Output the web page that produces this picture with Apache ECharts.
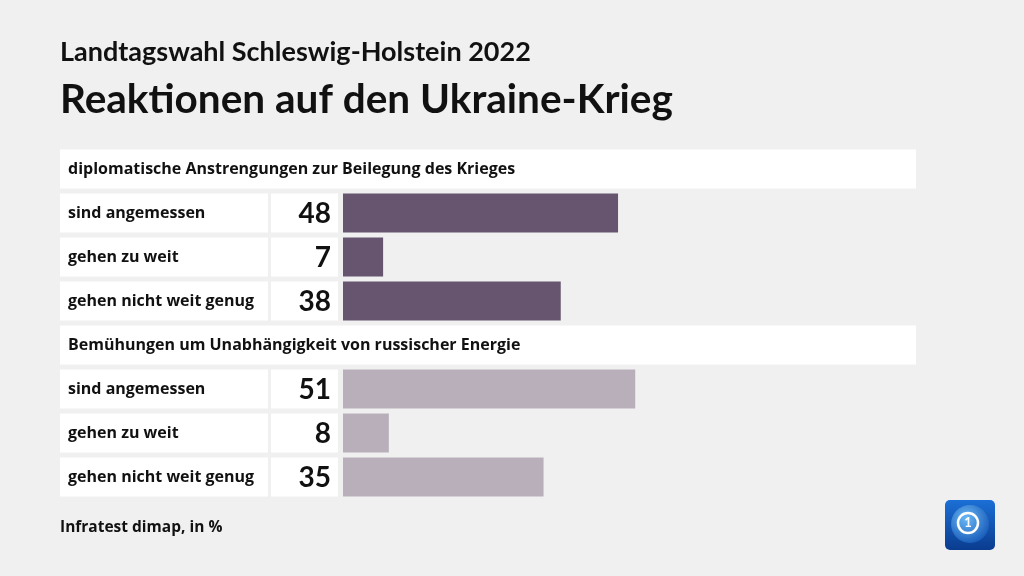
<!DOCTYPE html>
<html>
<head>
<meta charset="utf-8">
<script src="https://cdn.jsdelivr.net/npm/echarts@6/dist/echarts.min.js"></script>
<style>
html,body{margin:0;padding:0;background:#f0f0f0;}
#c{width:1024px;height:576px;}
</style>
</head>
<body>
<div id="c"></div>
<script>
// ---- data ----
const subtitle = 'Landtagswahl Schleswig-Holstein 2022';
const title = 'Reaktionen auf den Ukraine-Krieg';
const source = 'Infratest dimap, in %';
const groups = ['diplomatische Anstrengungen zur Beilegung des Krieges', 'Bemühungen um Unabhängigkeit von russischer Energie'];
const answers = ['sind angemessen', 'gehen zu weit', 'gehen nicht weit genug'];
const diplomacy = [48, 7, 38];
const energy = [51, 8, 35];
const groupColors = ['#67546f', '#b8afbb'];

// ---- build rows ----
const groupValues = [diplomacy, energy];
const rows = [];
groups.forEach((g, gi) => {
  rows.push({type: 'header', label: g, value: null, group: gi});
  answers.forEach((a, ai) => rows.push({type: 'item', label: a, value: groupValues[gi][ai], group: gi}));
});
const cats = rows.map((r, i) => String(i));

const TFONT = 'Lato';
const LFONT = '"Open Sans"';
const chart = echarts.init(document.getElementById('c'), null, {renderer: 'canvas'});

function renderCells(params, api) {
  const idx = params.dataIndex;
  const r = rows[idx];
  const p0 = api.coord([0, idx]);
  const p100 = api.coord([100, idx]);
  const h = 39;
  const top = p0[1] - h / 2;
  const children = [];
  if (r.type === 'header') {
    children.push({type: 'rect', shape: {x: 60, y: top, width: p100[0] - 60, height: h}, style: {fill: '#ffffff'}});
    children.push({type: 'text', style: {x: 68, y: p0[1], text: r.label, fill: '#111', font: 'bold 16px ' + LFONT, textVerticalAlign: 'middle', textAlign: 'left'}});
  } else {
    children.push({type: 'rect', shape: {x: 60, y: top, width: 208, height: h}, style: {fill: '#ffffff'}});
    children.push({type: 'rect', shape: {x: 271, y: top, width: p0[0] - 5 - 271, height: h}, style: {fill: '#ffffff'}});
    children.push({type: 'text', style: {x: 68, y: p0[1], text: r.label, fill: '#111', font: 'bold 16px ' + LFONT, textVerticalAlign: 'middle', textAlign: 'left'}});
    children.push({type: 'text', style: {x: p0[0] - 12, y: p0[1] + 1, text: String(r.value), fill: '#111', font: 'bold 28px ' + TFONT, textVerticalAlign: 'middle', textAlign: 'right'}});
  }
  return {type: 'group', children};
}

chart.setOption({
  backgroundColor: '#f0f0f0',
  animation: false,
  title: [
    {text: subtitle, left: 55, top: 34, textStyle: {fontFamily: TFONT, fontWeight: 'bold', fontSize: 27, color: '#111'}},
    {text: title, left: 55, top: 74, textStyle: {fontFamily: TFONT, fontWeight: 'bold', fontSize: 40.5, color: '#111'}},
    {text: source, left: 55, top: 515, textStyle: {fontFamily: 'Open Sans', fontWeight: 'bold', fontSize: 15.5, color: '#111'}}
  ],
  grid: {left: 343, right: 108, top: 147, height: 352},
  xAxis: {type: 'value', min: 0, max: 100, show: false},
  yAxis: {type: 'category', data: cats, inverse: true, show: false},
  series: [
    {
      type: 'custom',
      renderItem: renderCells,
      data: rows.map((r, i) => [0, i]),
      encode: {x: 0, y: 1},
      silent: true,
      z: 1
    },
    {
      type: 'bar',
      barWidth: 39,
      data: rows.map(r => r.value === null ? null : {value: r.value, itemStyle: {color: groupColors[r.group]}}),
      z: 2
    }
  ],
  graphic: [
    {type: 'rect', shape: {x: 945, y: 500, width: 50, height: 50, r: 5}, style: {fill: new echarts.graphic.LinearGradient(0, 0, 0, 1, [{offset: 0, color: '#1b6fd6'}, {offset: 1, color: '#0a3c8f'}])}},
    {type: 'circle', shape: {cx: 970, cy: 524, r: 19}, style: {fill: new echarts.graphic.RadialGradient(0.4, 0.35, 0.7, [{offset: 0, color: '#6ab8f5'}, {offset: 1, color: '#1659b8'}])}},
    {type: 'circle', shape: {cx: 968, cy: 523, r: 10}, style: {fill: 'none', stroke: '#ffffff', lineWidth: 2.5}},
    {type: 'text', style: {x: 968, y: 523, text: '1', fill: '#ffffff', font: 'bold 13px ' + TFONT, textAlign: 'center', textVerticalAlign: 'middle'}}
  ]
});
</script>
</body>
</html>
